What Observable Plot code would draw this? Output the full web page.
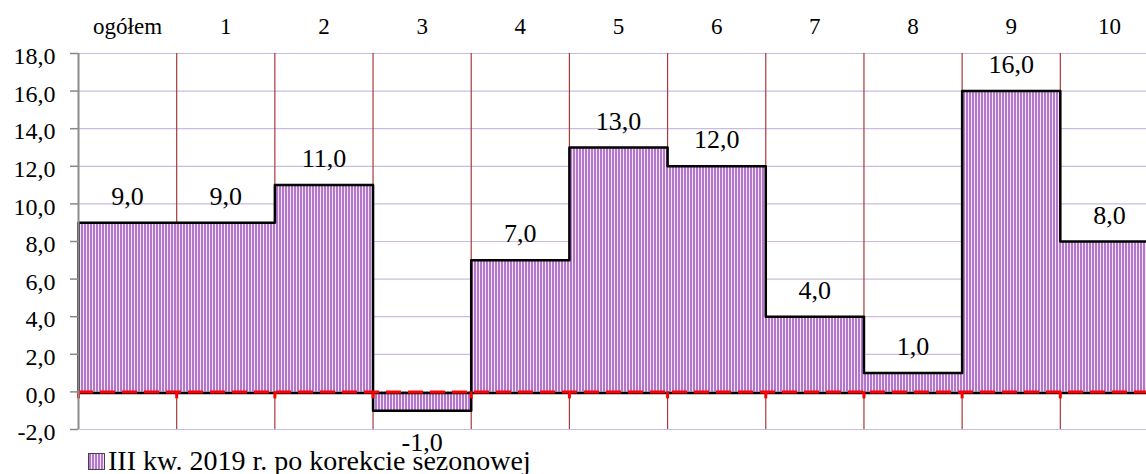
<!DOCTYPE html>
<html><head><meta charset="utf-8">
<script src="https://cdn.jsdelivr.net/npm/d3@7"></script>
<script src="https://cdn.jsdelivr.net/npm/@observablehq/plot@0.6"></script>
<style>
body{margin:0;background:#fff;overflow:hidden;font-family:"Liberation Serif","Times New Roman",serif;}
#chart svg, #chart svg text{font-family:"Liberation Serif","Times New Roman",serif !important;}
#legend{height:27px;line-height:28px;font-size:28px;padding-left:88px;white-space:nowrap;color:#000;}
.sw{display:inline-block;width:15px;height:15px;border:1.5px solid #444;background:repeating-linear-gradient(90deg,#b077cb 0 2px,#f4e2f4 2px 3px);vertical-align:baseline;margin-right:3px;}
</style></head><body>
<div id="chart"></div>
<div id="legend"><span class="sw"></span><span id="lt"></span></div>
<script>
const categories = ["ogółem","1","2","3","4","5","6","7","8","9","10"];
const values = [9.0, 9.0, 11.0, -1.0, 7.0, 13.0, 12.0, 4.0, 1.0, 16.0, 8.0];
const yTicks = [-2, 0, 2, 4, 6, 8, 10, 12, 14, 16, 18];
const seriesName = "III kw. 2019 r. po korekcie sezonowej";

document.getElementById("lt").textContent = seriesName;

const bars = categories.map((c, i) => ({i, c, v: values[i]}));
const n = categories.length;
const bounds = d3.range(0, n + 1);
const centers = categories.map((c, i) => i + 0.5);
const outline = [{x: 0, y: 0}, ...bars.map(d => ({x: d.i, y: d.v})), {x: n, y: values[n - 1]}, {x: n, y: 0}];
const fmt = d => d.toFixed(1).replace(".", ",");
const font = "Liberation Serif";

const chart = Plot.plot({
  width: 1146, height: 447,
  marginLeft: 78, marginRight: -12, marginTop: 53, marginBottom: 18,
  style: {fontFamily: font, overflow: "visible", background: "transparent", color: "#000"},
  x: {domain: [0, n], axis: null},
  y: {domain: [-2, 18], axis: null},
  marks: [
    Plot.gridY(yTicks, {stroke: "#cbbcde", strokeOpacity: 1, strokeWidth: 1.2}),
    Plot.gridX(bounds.slice(1), {stroke: "#a83a3a", strokeOpacity: 1, strokeWidth: 1.2}),
    Plot.rect(bars, {x1: "i", x2: d => d.i + 1, y1: 0, y2: "v", fill: "url(#stripes)"}),
    Plot.ruleY([0], {stroke: "#000", strokeWidth: 2.5, dy: 1}),
    Plot.line(outline, {x: "x", y: "y", curve: "step-after", stroke: "#000", strokeWidth: 2.5}),
    Plot.ruleY([0], {stroke: "#ff0000", strokeWidth: 3, strokeDasharray: "15,7"}),
    Plot.ruleX(bounds, {x: d => d, y1: 0, y2: 0, insetBottom: -7, stroke: "#ff0000", strokeWidth: 3}),
    Plot.axisY({ticks: yTicks, tickSize: 8, tickFormat: () => "", stroke: "#888", strokeWidth: 1.5}),
    Plot.axisY({ticks: yTicks, tickSize: 0, tickPadding: 23, tickFormat: fmt, fontSize: 24, dy: 3, fill: "#000", fontFamily: font}),
    Plot.ruleX([0], {stroke: "#8c8c8c", strokeWidth: 2}),
    Plot.axisX({anchor: "top", ticks: centers, tickFormat: d => categories[Math.floor(d)], tickSize: 0, tickPadding: 20, fontSize: 23, fill: "#000", fontFamily: font}),
    Plot.text(bars.filter(d => d.v >= 0), {x: d => d.i + 0.5, y: "v", text: d => fmt(d.v), lineAnchor: "bottom", dy: -18, fontSize: 26, fill: "#000", fontFamily: font}),
    Plot.text(bars.filter(d => d.v < 0), {x: d => d.i + 0.5, y: "v", text: d => fmt(d.v), lineAnchor: "bottom", dy: 40, fontSize: 26, fill: "#000", fontFamily: font})
  ]
});

const ns = "http://www.w3.org/2000/svg";
const defs = document.createElementNS(ns, "defs");
defs.innerHTML = '<pattern id="stripes" patternUnits="userSpaceOnUse" width="3" height="10"><rect width="3" height="10" fill="#f4e2f4"/><rect width="2" height="10" fill="#b077cb"/></pattern>';
chart.insertBefore(defs, chart.firstChild);
document.getElementById("chart").appendChild(chart);
</script>
</body></html>
